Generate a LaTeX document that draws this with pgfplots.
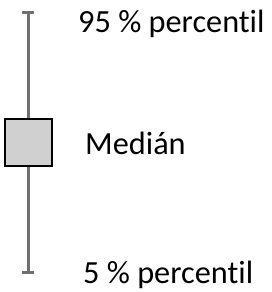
\documentclass[border=0pt]{standalone}
\usepackage{fontspec}
\setmainfont[Ligatures={NoCommon,NoRare}]{Carlito}
\usepackage{pgfplots}
\pgfplotsset{compat=1.18}
\definecolor{whisk}{HTML}{707070}
\definecolor{boxfill}{HTML}{D0D0D0}
\begin{document}
\begin{tikzpicture}
\begin{axis}[
  hide axis, scale only axis,
  width=271pt, height=292pt,
  xmin=0, xmax=271, ymin=0, ymax=292,
  clip=false,
]
% whisker
\addplot[whisk, line width=3pt] coordinates {(28,279) (28,19)};
\addplot[whisk, line width=3pt] coordinates {(22,279) (34,279)};
\addplot[whisk, line width=3pt] coordinates {(22,19) (34,19)};
% box
\addplot[black, line width=2pt, fill=boxfill] coordinates {(5,173) (52,173) (52,126) (5,126)} -- cycle;
\node[anchor=base west, inner sep=0pt, font=\fontsize{32.3}{36}\selectfont] at (axis cs:78,259) {95 \% percentil};
\node[anchor=base west, inner sep=0pt, font=\fontsize{32.3}{36}\selectfont] at (axis cs:85,137) {Medián};
\node[anchor=base west, inner sep=0pt, font=\fontsize{32.3}{36}\selectfont] at (axis cs:83,9) {5 \% percentil};
\end{axis}
\pgfresetboundingbox
\path[use as bounding box] (current axis.south west) rectangle (current axis.north east);
\end{tikzpicture}
\end{document}
